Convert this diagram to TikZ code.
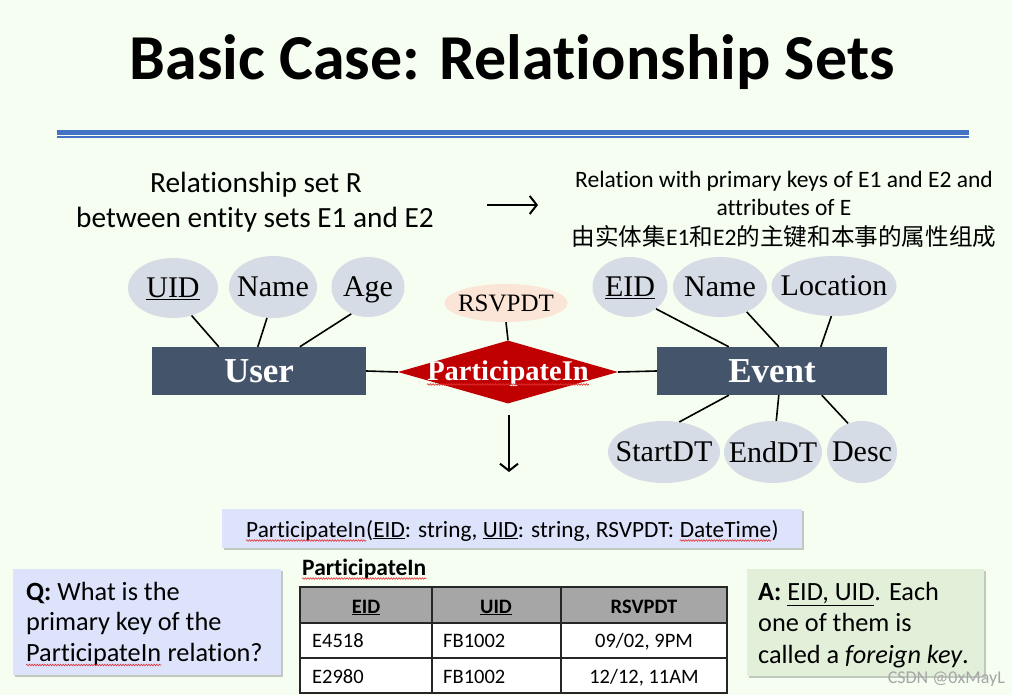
\documentclass[tikz,border=0pt]{standalone}
\usepackage{fontspec}
\setmainfont{Carlito}[Ligatures={TeX,NoCommon}]
\newfontfamily\erfont{Liberation Serif}
\newfontfamily\cjk{Noto Sans CJK SC}
\usetikzlibrary{shapes.geometric,arrows.meta,shadows,calc,decorations.pathmorphing}
\definecolor{bg}{HTML}{F5FEF0}
\definecolor{bluel}{HTML}{4472C4}
\definecolor{entc}{HTML}{44546A}
\definecolor{attrc}{HTML}{D6DCE5}
\definecolor{peach}{HTML}{FBE5D6}
\definecolor{redc}{HTML}{C00000}
\definecolor{lav}{HTML}{DEE3FC}
\definecolor{greenbox}{HTML}{E2EFD9}
\definecolor{hdr}{HTML}{A6A6A6}
\definecolor{spell}{HTML}{E03030}
\newcommand\fs[1]{\fontsize{#1}{#1}\selectfont}
\tikzset{
  attr/.style={ellipse, fill=attrc, inner sep=0pt},
  attrlbl/.style={inner sep=0pt, text depth=0pt, font=\erfont\fs{30}},
  entity/.style={rectangle, fill=entc, text=white, inner sep=0pt, font=\erfont\bfseries\fs{35}},
  conn/.style={line width=1.6pt, black},
  bigarrow/.style={line width=2pt, -{Straight Barb[length=7pt,width=18pt]}},
  shadowbox/.style={rectangle, inner sep=0pt, drop shadow={shadow xshift=2pt, shadow yshift=-2pt, opacity=0.3, fill=black!70}},
  txt/.style={anchor=base, inner sep=0pt},
  txtw/.style={anchor=base west, inner sep=0pt},
  squig/.style={spell, line width=0.6pt, decorate, decoration={snake, amplitude=0.8pt, segment length=2.6pt}},
}
\begin{document}
\begin{tikzpicture}[x=1pt,y=-1pt]
\fill[bg] (0,0) rectangle (1012,695);
\useasboundingbox (0,0) rectangle (1012,695);
% title
\node[txt, font=\bfseries\fs{64}] (title) at (512,80) {Basic Case: Relationship Sets};
\fill[bluel] (57,130) rectangle (969,135);
\fill[bluel] (57,136.4) rectangle (969,137.8);
% left description
\node[txt, font=\fs{29.3}] (l1) at (256,193) {Relationship set R};
\node[txt, font=\fs{29.3}] (l2) at (255,228) {between entity sets E1 and E2};
\coordinate (ra1) at (487,205);
\coordinate (ra2) at (538,205);
\draw[bigarrow] (ra1) -- (ra2);
% right description
\node[txt, font=\fs{23.5}] (r1) at (784,188) {Relation with primary keys of E1 and E2 and};
\node[txt, font=\fs{23.5}] (r2) at (784,215) {attributes of E};
\node[txt, font=\fs{23.6}] (r3) at (784,246) {{\cjk 由实体集}E1{\cjk 和}E2{\cjk 的主键和本事的属性组成}};
% ER diagram
\node[entity, minimum width=214, minimum height=48] (user) at (259,371) {User};
\node[entity, minimum width=230, minimum height=48] (event) at (772,371) {Event};
\node[attr, minimum width=90, minimum height=60] (uid) at (173,288) {};
\node[attrlbl] (uidt) at (uid) {\underline{UID}};
\node[attr, minimum width=88, minimum height=62] (uname) at (273,287) {};
\node[attrlbl] (unamet) at (uname) {Name};
\node[attr, minimum width=73, minimum height=60] (age) at (368,287) {};
\node[attrlbl] (aget) at (age) {Age};
\node[diamond, fill=redc, minimum width=220, minimum height=63, inner sep=0pt] (rel) at (508,372) {};
\node[txt, text=white, font=\erfont\bfseries\fs{28.5}] (reltext) at (508,380.5) {ParticipateIn};
\draw[squig] ($(reltext.base west)+(0,4)$) -- ($(reltext.base east)+(0,4)$);
\node[ellipse, fill=peach, minimum width=123, minimum height=38, inner sep=0pt] (rsvp) at (506,303) {};
\node[inner sep=0pt, text depth=0pt, font=\erfont\fs{25}] (rsvpt) at (rsvp) {RSVPDT};
\node[attr, minimum width=75, minimum height=60] (eid) at (630,287) {};
\node[attrlbl] (eidt) at (eid) {\underline{EID}};
\node[attr, minimum width=94, minimum height=60] (ename) at (720,287) {};
\node[attrlbl] (enamet) at (ename) {Name};
\node[attr, minimum width=125, minimum height=60] (loc) at (834,286) {};
\node[attrlbl] (loct) at (loc) {Location};
\node[attr, minimum width=112, minimum height=62] (start) at (664,452) {};
\node[attrlbl] (startt) at (start) {StartDT};
\node[attr, minimum width=98, minimum height=62] (end) at (773,452) {};
\node[attrlbl] (endt) at (end) {EndDT};
\node[attr, minimum width=70, minimum height=62] (desc) at (862,452) {};
\node[attrlbl] (desct) at (desc) {Desc};
\draw[conn] (uid.-56) -- ($(user.north west)+(67,0)$);
\draw[conn] (uname.-101) -- ($(user.north west)+(106,0)$);
\draw[conn] (age.-122) -- ($(user.north west)+(148,0)$);
\draw[conn] (user.east) -- (rel.west);
\draw[conn] (rel.east) -- (event.west);
\draw[conn] (rsvp.south) -- (rel.north);
\draw[conn] (eid.-40) -- ($(event.north west)+(72,0)$);
\draw[conn] (ename.-43) -- ($(event.north west)+(122,0)$);
\draw[conn] (loc.-95) -- ($(event.north west)+(164,0)$);
\draw[conn] (start.63) -- ($(event.south west)+(72,0)$);
\draw[conn] (end.84) -- ($(event.south west)+(122,0)$);
\draw[conn] (desc.116) -- ($(event.south west)+(165,0)$);
\coordinate (da1) at (509,415);
\coordinate (da2) at (509,472);
\draw[bigarrow] (da1) -- (da2);
% schema box
\node[shadowbox, fill=lav, minimum width=580, minimum height=39, anchor=north west] (schema) at (222,509) {};
\node[txtw, font=\fs{23.3}] (s1) at (246,537) {ParticipateIn};
\node[txtw, font=\fs{23.3}] (s2) at (s1.base east) {(\underline{EID}: string, \underline{UID}: string, RSVPDT:};
\node[txtw, font=\fs{23.3}] (s3) at ([xshift=5.3pt]s2.base east) {DateTime};
\node[txtw, font=\fs{23.3}] (s4) at (s3.base east) {)};
\draw[squig] ($(s1.base west)+(0,3.5)$) -- ($(s1.base east)+(0,3.5)$);
\draw[squig] ($(s3.base west)+(0,3.5)$) -- ($(s3.base east)+(0,3.5)$);
% Q box
\node[shadowbox, fill=lav, minimum width=268, minimum height=106, anchor=north west] (qbox) at (13,569) {};
\node[txtw, font=\fs{26.3}] (q1) at (26,600) {\textbf{Q:} What is the};
\node[txtw, font=\fs{26.3}] (q2) at (26,630) {primary key of the};
\node[txtw, font=\fs{26.3}] (q3) at (26,661) {ParticipateIn};
\node[txtw, font=\fs{26.3}] (q3b) at ([xshift=6pt]q3.base east) {relation?};
\draw[squig] ($(q3.base west)+(0,4)$) -- ($(q3.base east)+(0,4)$);
% A box
\node[shadowbox, fill=greenbox, minimum width=237, minimum height=107, anchor=north west] (abox) at (747,569) {};
\node[txtw, font=\fs{26.3}] (a1) at (758,600) {\textbf{A:} \underline{EID, UID}. Each};
\node[txtw, font=\fs{26.3}] (a2) at (758,631) {one of them is};
\node[txtw, font=\fs{26.3}] (a3) at (758,663) {called a \textit{foreign key}.};
% table
\node[txtw, font=\bfseries\fs{23.5}] (ttitle) at (302,575) {ParticipateIn};
\draw[squig] ($(ttitle.base west)+(0,3.5)$) -- ($(ttitle.base east)+(0,3.5)$);
\fill[hdr] (300,587) rectangle (727,623);
\fill[white] (300,623) rectangle (727,693);
\draw[line width=1.3pt, black!85] (300,587) rectangle (727,693);
\draw[line width=1.3pt, black!85] (300,623) -- (727,623) (300,658) -- (727,658) (432,587) -- (432,693) (561,587) -- (561,693);
\node[txt, font=\bfseries\fs{20.5}] (h1) at (366,613) {\underline{EID}};
\node[txt, font=\bfseries\fs{20.5}] (h2) at (496,613) {\underline{UID}};
\node[txt, font=\bfseries\fs{20.5}] (h3) at (644,613) {RSVPDT};
\node[txtw, font=\fs{20.5}] (c11) at (312,647) {E4518};
\node[txtw, font=\fs{20.5}] (c12) at (443,647) {FB1002};
\node[txt, font=\fs{20.5}] (c13) at (644,647) {09/02, 9PM};
\node[txtw, font=\fs{20.5}] (c21) at (312,683) {E2980};
\node[txtw, font=\fs{20.5}] (c22) at (443,683) {FB1002};
\node[txt, font=\fs{20.5}] (c23) at (644,683) {12/12, 11AM};
% watermark
\node[anchor=base east, inner sep=0pt, text=black!35, font=\fs{18}] (wm) at (1005,683) {CSDN @0xMayL};
\end{tikzpicture}
\end{document}
